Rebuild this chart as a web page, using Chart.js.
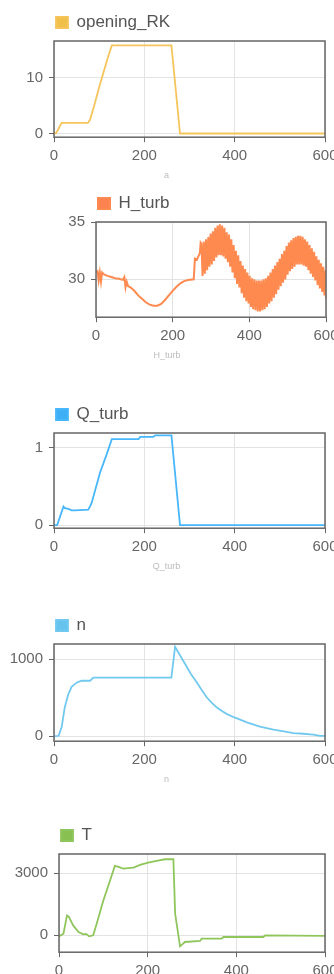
<!DOCTYPE html>
<html>
<head>
<meta charset="utf-8">
<script src="https://cdn.jsdelivr.net/npm/chart.js@4.4.0/dist/chart.umd.min.js"></script>
<style>
  html, body { margin: 0; padding: 0; background: #fff; }
  body { width: 334px; height: 974px; overflow: hidden; position: relative; }
  canvas { position: absolute; left: 0; }
</style>
</head>
<body>
<canvas id="rkChart" width="350" height="175" style="top:12px"></canvas>
<canvas id="hChart" width="350" height="174" style="top:193px"></canvas>
<canvas id="qChart" width="350" height="174" style="top:404px"></canvas>
<canvas id="nChart" width="350" height="176" style="top:615px"></canvas>
<canvas id="tChart" width="350" height="177" style="top:825px"></canvas>
<script>
    // Shared time axis
    const xTicks = [0, 200, 400, 600];

    // opening_RK
    const rkTime = [0, 5, 17, 75, 80, 90, 100, 110, 120, 128, 260, 279, 600];
    const rkValue = [0, 0.1, 1.9, 1.9, 2.5, 5.3, 8.3, 11.1, 13.8, 15.8, 15.8, 0, 0];
    const rkTicks = [0, 10];

    // H_turb (after ~275 s it oscillates fast, read as alternating upper / lower values)
    const hTime = [0, 4, 7, 10, 13, 16, 19, 22, 30, 40, 50, 60, 70, 74, 77, 80, 84, 90, 100, 110,
      120, 130, 140, 150, 160, 170, 180, 190, 200, 210, 220, 230, 240, 255, 258, 263, 267, 271, 273,
      275, 278, 281, 284, 287, 290, 293, 296, 299, 302, 305, 308, 311, 314, 317, 320, 323, 326, 329, 332,
      335, 338, 341, 344, 347, 350, 353, 356, 359, 362, 365, 368, 371, 374, 377, 380, 383, 386, 389, 392,
      395, 398, 401, 404, 407, 410, 413, 416, 419, 422, 425, 428, 431, 434, 437, 440, 443, 446, 449, 452,
      455, 458, 461, 464, 467, 470, 473, 476, 479, 482, 485, 488, 491, 494, 497, 500, 503, 506, 509, 512,
      515, 518, 521, 524, 527, 530, 533, 536, 539, 542, 545, 548, 551, 554, 557, 560, 563, 566, 569, 572,
      575, 578, 581, 584, 587, 590, 593, 596, 599, 600];
    const hValue = [30.6, 30.7, 29.9, 30.6, 29.8, 30.6, 30.5, 30.4, 30.3, 30.2, 30.1, 30.05, 29.95, 30.2, 29.3, 29.8, 29.4, 29.3, 29.0, 28.6,
      28.3, 28.0, 27.8, 27.7, 27.7, 27.85, 28.2, 28.6, 29.0, 29.35, 29.65, 29.85, 29.95, 30.0, 31.8, 31.7, 32.0, 32.3, 33.2,
      33.1, 30.3, 33.3, 30.5, 33.5, 30.8, 33.7, 31.1, 34.0, 31.3, 34.2, 31.6, 34.5, 31.9, 34.7, 32.1, 34.8, 32.1, 34.7, 32.0,
      34.5, 31.8, 34.1, 31.5, 33.9, 31.1, 33.5, 30.6, 33.0, 30.1, 32.5, 29.6, 32.1, 29.3, 31.6, 28.8, 31.2, 28.4, 30.9, 28.1,
      30.6, 27.9, 30.3, 27.6, 30.1, 27.4, 30.0, 27.3, 29.9, 27.2, 29.9, 27.2, 29.9, 27.3, 30.0, 27.4, 30.1, 27.6, 30.3, 27.9,
      30.6, 28.1, 30.9, 28.4, 31.2, 28.7, 31.5, 29.1, 31.8, 29.4, 32.2, 29.7, 32.5, 30.0, 32.9, 30.4, 33.2, 30.7, 33.4, 30.9,
      33.6, 31.1, 33.7, 31.3, 33.8, 31.3, 33.8, 31.3, 33.7, 31.2, 33.5, 31.1, 33.3, 30.8, 33.0, 30.5, 32.7, 30.2, 32.4, 29.9,
      32.0, 29.5, 31.7, 29.2, 31.4, 28.9, 31.1, 28.6, 30.8, 28.3];
    const hTicks = [30, 35];

    // Q_turb
    const qTime = [0, 7, 21, 24, 32, 39, 46, 76, 83, 102, 117, 128, 187, 191, 220, 224, 260, 279, 600];
    const qValue = [0, 0, 0.24, 0.22, 0.21, 0.19, 0.19, 0.2, 0.28, 0.68, 0.92, 1.11, 1.11, 1.14, 1.14, 1.16, 1.16, 0, 0];
    const qTicks = [0, 1];

    // n
    const nTime = [0, 10, 17, 24, 32, 39, 50, 61, 80, 87, 260, 268, 275, 282, 290, 297, 305, 316, 327, 338, 349, 360, 371, 382,
      401, 427, 456, 486, 515, 530, 545, 574, 589, 600];
    const nValue = [0, 5, 120, 380, 550, 640, 695, 720, 720, 760, 760, 1160, 1090, 1020, 940, 870, 790, 700, 600, 505, 435, 375, 330, 290,
      240, 180, 125, 85, 55, 40, 35, 20, 5, 5];
    const nTicks = [0, 1000];

    // T
    const tTime = [0, 10, 18, 22, 32, 44, 55, 61, 68, 77, 85, 100, 115, 126, 134, 145, 168, 183, 201, 220, 239, 258, 262, 273, 284, 318, 322, 367, 371, 461, 465, 600];
    const tValue = [-50, 80, 960, 900, 480, 160, 50, 70, -50, 0, 560, 1680, 2630, 3350, 3300, 3220, 3270, 3400, 3510, 3590, 3670, 3670, 1040, -530, -320, -270, -160, -160, -80, -80, 0, -30];
    const tTicks = [0, 3000];

    Chart.defaults.font.family = "'Liberation Sans', Arial, sans-serif";

    // Dark frame round the plot area
    const frame = {
      id: 'frame',
      afterDatasetsDraw(chart) {
        const { ctx, chartArea: a } = chart;
        ctx.save();
        ctx.strokeStyle = '#666';
        ctx.lineWidth = 1.5;
        ctx.strokeRect(a.left, a.top, a.right - a.left, a.bottom - a.top);
        ctx.restore();
      }
    };

    function makeChart(id, cfg) {
      const ctx = document.getElementById(id).getContext('2d');
      return new Chart(ctx, {
        type: 'line',
        data: {
          datasets: [{
            label: cfg.label,
            data: cfg.time.map((t, i) => ({ x: t, y: cfg.value[i] })),
            borderColor: cfg.color,
            backgroundColor: cfg.box,
            borderWidth: cfg.width || 1.8,
            pointRadius: 0,
            tension: 0
          }]
        },
        options: {
          responsive: false,
          animation: false,
          layout: { padding: { left: 8, right: cfg.right, top: 0, bottom: 0 } },
          plugins: {
            legend: {
              fullSize: false,
              align: 'start',
              labels: { boxWidth: 12, boxHeight: 11, padding: 2, color: '#555', font: { size: 17 } }
            },
            title: {
              display: true,
              text: cfg.title,
              position: 'bottom',
              color: '#bbb',
              font: { size: 9, weight: 'normal' },
              padding: { top: 6, bottom: 6 }
            },
            tooltip: { enabled: false }
          },
          scales: {
            x: {
              type: 'linear',
              min: 0,
              max: 600,
              afterBuildTicks: s => { s.ticks = xTicks.map(v => ({ value: v })); },
              afterFit: s => { s.height = 27; },
              grid: { color: '#e3e3e3', tickColor: '#666', tickLength: 5 },
              border: { display: false },
              ticks: { padding: 5, color: '#666', font: { size: 15 }, maxRotation: 0, autoSkip: false,
                callback: v => String(v) }
            },
            y: {
              min: cfg.min,
              max: cfg.max,
              afterBuildTicks: s => { s.ticks = cfg.ticks.map(v => ({ value: v })); },
              afterFit: s => { s.width = cfg.left - 8; },
              grid: { color: '#e3e3e3', tickColor: '#666', tickLength: 5 },
              border: { display: false },
              ticks: { padding: 6, color: '#666', font: { size: 15 }, callback: v => String(v) }
            }
          }
        },
        plugins: [frame]
      });
    }

    makeChart('rkChart', { label: 'opening_RK', title: 'a', time: rkTime, value: rkValue, ticks: rkTicks,
      color: '#f5c55c', box: '#f0c04a', min: -0.66, max: 16.6, left: 54, right: 25 });
    makeChart('hChart', { label: 'H_turb', title: 'H_turb', time: hTime, value: hValue, ticks: hTicks,
      color: '#ff8a50', box: '#ff8350', min: 26.7, max: 35, left: 96, right: 24, width: 2 });
    makeChart('qChart', { label: 'Q_turb', title: 'Q_turb', time: qTime, value: qValue, ticks: qTicks,
      color: '#48b6fa', box: '#3caff7', min: -0.04, max: 1.19, left: 54, right: 25 });
    makeChart('nChart', { label: 'n', title: 'n', time: nTime, value: nValue, ticks: nTicks,
      color: '#72c9f0', box: '#66c3ee', min: -65, max: 1197, left: 54, right: 25 });
    makeChart('tChart', { label: 'T', title: 'T', time: tTime, value: tValue, ticks: tTicks,
      color: '#8fc65c', box: '#88c052', min: -813, max: 3923, left: 59, right: 25 });
</script>
</body>
</html>
